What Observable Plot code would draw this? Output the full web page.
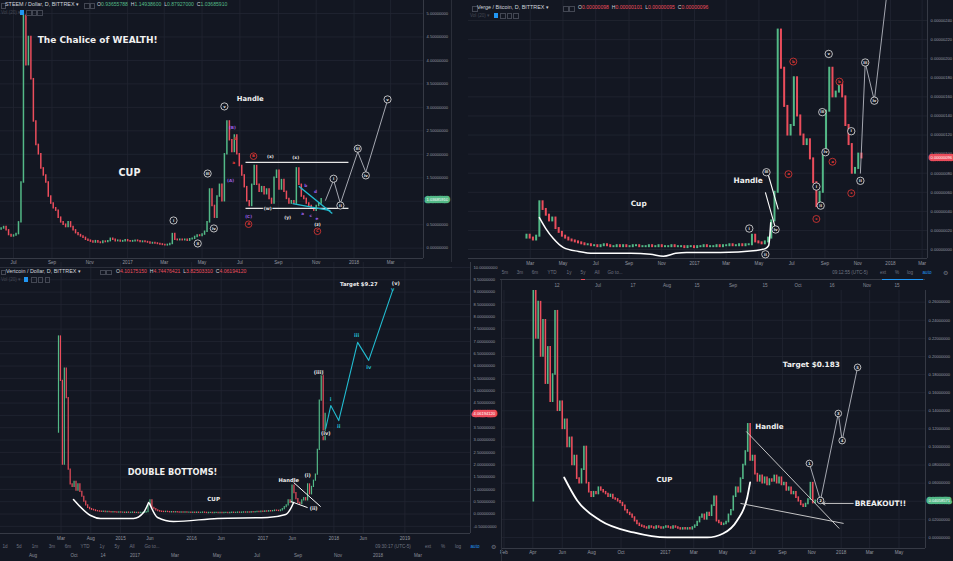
<!DOCTYPE html>
<html>
<head>
<meta charset="utf-8">
<script src="https://cdn.jsdelivr.net/npm/d3@7"></script>
<script src="https://cdn.jsdelivr.net/npm/@observablehq/plot@0.6"></script>
<style>
  html, body { margin: 0; padding: 0; background: #131722; }
  #wrap { position: relative; width: 953px; height: 561px; overflow: hidden; background: #131722; }
  #wrap > svg { position: absolute; }
  .t { position: absolute; white-space: nowrap; font-family: "Liberation Sans", Arial, sans-serif; line-height: 1; transform: translateY(-50%); }
  .hdr { font-size: 5.4px; color: #d1d4dc; }
  .tb { font-size: 4.6px; color: #6f7380; transform: translate(-50%, -50%); }
  .vol { font-size: 4.6px; color: #434753; }
  .g { color: #53b987; } .r { color: #eb4d5c; } .bl { color: #2196f3; }
  .box { position: absolute; width: 3.6px; height: 3.6px; border: 0.6px solid #434753; }
  .bbox { position: absolute; width: 4.4px; height: 4.4px; background: #2196f3; }
  .sep { position: absolute; background: #2a2e39; }
</style>
</head>
<body>
<div id="wrap"></div>
<script>
// ================= DATA =================
// --- STEEM / Dollar (candles every 4 days) ---
const steemStart = "2016-06-11";
const steemStep = 4;
const steemOpen0 = 0.40;
const steemClose = [0.42,0.45,0.38,0.28,0.25,0.27,0.30,0.55,1.40,4.95,
 3.90,4.50,3.60,2.70,2.20,2.00,1.70,1.55,1.40,1.10,
 0.95,0.85,0.80,0.65,0.55,0.50,0.45,0.55,0.45,0.38,
 0.32,0.28,0.25,0.22,0.18,0.16,0.14,0.12,0.15,0.12,
 0.11,0.14,0.13,0.15,0.20,0.18,0.15,0.16,0.14,0.15,
 0.17,0.15,0.14,0.15,0.16,0.15,0.13,0.14,0.13,0.12,
 0.10,0.11,0.10,0.09,0.08,0.07,0.06,0.07,0.09,0.30,
 0.18,0.17,0.18,0.17,0.18,0.16,0.19,0.20,0.24,0.27,
 0.26,0.29,0.35,0.55,1.25,0.90,0.65,1.10,1.35,1.00,
 2.00,2.70,2.30,2.05,2.40,2.00,1.75,1.55,1.30,1.00,
 0.90,1.35,1.75,1.35,1.20,1.30,1.15,1.25,1.05,0.95,
 1.50,1.65,1.25,1.45,1.20,1.05,0.95,1.00,0.95,1.70,
 1.35,1.10,1.05,0.95,0.90,0.85,0.80,0.90,0.95,1.04];
const steemOhlc = ["0.93655788","1.14938600","0.87927000","1.03685910"];
const steemXDomain = ["2016-06-10","2018-04-23"];
const steemYDomain = [-0.22, 5.277];
const steemXTicks = ["2016-07-01","2016-09-01","2016-11-01","2017-01-01","2017-03-01","2017-05-01","2017-07-01","2017-09-01","2017-11-01","2018-01-01","2018-03-01"];
const steemYTicks = [0,0.5,1,1.5,2,2.5,3,3.5,4,4.5,5];
const steemWave = [["2017-11-16",1.02],["2017-11-29",1.45],["2017-12-10",0.95],["2018-01-07",2.05],["2018-01-20",1.62],["2018-02-24",3.15]];
const steemCircles = [["2017-03-16",0.59,"i"],["2017-04-24",0.10,"ii"],["2017-05-10",1.59,"iii"],["2017-05-20",0.42,"iv"],["2017-06-06",3.02,"v"],
 ["2017-11-29",1.48,"i"],["2017-12-10",0.91,"ii"],["2018-01-07",2.12,"iii"],["2018-01-20",1.55,"iv"],["2018-02-24",3.17,"v"]];
const steemRedCircles = [["2017-07-23",1.96,"B"],["2017-07-15",0.51,"A"],["2017-11-03",0.36,"C"]];
const steemWhiteTags = [["2017-08-19",1.96,"(x)"],["2017-09-29",1.93,"(x)"],["2017-08-15",0.85,"(w)"],["2017-09-16",0.65,"(y)"],["2017-11-03",0.51,"(z)"]];
const steemPurpleTags = [["2017-06-19",2.57,"(B)"],["2017-06-16",1.44,"(A)"],["2017-07-15",0.68,"(C)"],["2017-10-15",1.34,"b"],["2017-10-31",1.21,"d"],["2017-10-10",0.74,"a"],["2017-10-23",0.70,"c"],["2017-11-02",0.63,"e"]];
const steemRedTags = [["2017-06-24",2.33,"b"],["2017-06-21",1.82,"a"]];
const steemRange = [["2017-07-10","2017-12-23",1.83],["2017-07-10","2017-12-23",0.85]];
const steemWedge = [[["2017-10-04",1.32],["2017-11-27",0.74]],[["2017-09-24",0.95],["2017-11-24",0.80]]];
const steemNotes = [["2016-08-09",4.43,"The Chalice of WEALTH!"],["2017-06-26",3.19,"Handle"],["2017-01-04",1.61,"CUP"]];

// --- Verge / Bitcoin (satoshi, candles every 6 days) ---
const vergeStart = "2016-02-23";
const vergeStep = 6;
const vergeOpen0 = 12;
const vergeClose = [15,12,10,14,50,42,36,30,33,22,
 18,14,12,10,9,8,7,6,5,5,
 4,4,3,4,5,4,3,3,4,3,
 4,3,3,4,4,3,3,3,4,3,
 3,4,3,3,3,4,3,3,3,2,
 3,3,2,3,3,4,3,3,3,4,
 3,4,4,5,4,4,5,4,5,5,
 15,8,7,6,8,12,30,60,230,190,
 150,120,130,180,140,120,110,115,95,70,
 45,60,100,145,190,160,165,175,160,130,
 110,80,85,100,96];
const vergeOhlc = ["0.00000098","0.00000101","0.00000095","0.00000096"];
const vergeXDomain = ["2015-11-07","2018-03-11"];
const vergeYDomain = [-9.4, 261];
const vergeXTicks = ["2016-03-01","2016-05-01","2016-07-01","2016-09-01","2016-11-01","2017-01-01","2017-03-01","2017-05-01","2017-07-01","2017-09-01","2017-11-01","2018-01-01","2018-03-01"];
const vergeYTicks = [0,20,40,60,80,100,120,140,160,180,200,220,240];
const vergeCup = [["2016-03-18",33.5],["2016-03-30",22],["2016-04-13",11.5],["2016-05-02",2],["2016-05-30",-2],["2016-06-27",-4],["2016-09-04",-4],["2016-10-11",-5],["2016-11-04",-7],["2016-11-27",-4],["2016-12-17",-3],["2017-02-18",-3],["2017-04-26",-1],["2017-05-13",1],["2017-05-19",4],["2017-05-23",28]];
const vergeHandle = [[["2017-05-17",81],["2017-06-06",42]],[["2017-05-13",60],["2017-06-01",22]]];
const vergeWave = [["2017-11-06",80],["2017-11-15",196],["2017-12-02",156],["2018-01-01",300]];
const vergeCircles = [["2017-04-13",22,"i"],["2017-05-13",-5,"ii"],["2017-05-15",81,"iii"],["2017-06-01",21,"iv"],["2017-09-08",205,"v"],
 ["2017-08-16",66,"i"],["2017-08-24",46,"ii"],["2017-08-27",144,"iii"],["2017-09-02",102,"iv"],
 ["2017-10-20",124,"i"],["2017-11-06",72,"ii"],["2017-11-15",196,"iii"],["2017-12-02",156,"iv"]];
const vergeRedCircles = [["2017-06-25",79,"a"],["2017-07-04",197,"b"],["2017-08-16",32,"c"],["2017-09-15",92,"a"],["2017-09-28",176,"b"],["2017-10-20",59,"c"]];
const vergeNotes = [["2017-04-11",72,"Handle"],["2016-09-19",48,"Cup"]];

// --- Vertcoin / Dollar (candles every 10 days) ---
const vtcStart = "2014-02-16";
const vtcStep = 10;
const vtcOpen0 = 3.3;
const vtcClose = [7.2,5.4,2.0,5.9,4.7,1.8,1.2,1.1,1.3,0.95,
 1.2,0.9,0.7,0.5,0.35,0.25,0.2,0.17,0.15,0.12,
 0.11,0.10,0.09,0.10,0.08,0.09,0.08,0.07,0.08,0.07,
 0.06,0.07,0.06,0.06,0.05,0.06,0.05,0.05,0.06,0.05,
 0.05,0.04,0.05,0.05,0.06,0.08,0.35,0.55,0.25,0.20,
 0.15,0.12,
 0.10,0.09,0.08,0.09,0.08,0.07,0.08,0.07,0.08,0.07,
 0.06,0.07,0.06,0.07,0.06,0.06,0.05,0.06,0.05,0.06,
 0.05,0.05,0.06,0.05,0.04,0.05,0.05,0.04,0.05,0.05,
 0.04,0.05,0.04,0.05,0.05,0.04,0.05,0.06,0.05,0.05,
 0.06,0.05,0.06,0.07,0.06,0.07,0.06,0.08,0.07,0.08,
 0.09,0.08,0.10,0.09,0.11,0.10,0.12,0.11,0.12,0.14,
 0.13,0.12,
 0.15,0.20,0.28,0.35,0.55,0.45,1.15,0.85,0.60,0.45,
 0.40,0.55,0.65,0.55,1.20,0.80,1.10,1.35,1.60,2.60,
 4.60,5.80,3.00,4.06];
const vtcOhlc = ["4.10175150","4.74476421","3.82503310","4.06194120"];
const vtcXDomain = ["2013-04-24","2019-12-04"];
const vtcYDomain = [-0.79, 10.2];
const vtcXTicks = ["2014-03-01","2014-08-01","2015-01-01","2015-06-01","2016-01-01","2016-06-01","2017-01-01","2017-06-01","2018-01-01","2018-06-01","2019-01-01"];
const vtcYTicks = [-0.5,0,0.5,1,1.5,2,2.5,3,3.5,4,4.5,5,5.5,6,6.5,7,7.5,8,8.5,9,9.5,10];
const vtcCup1 = [["2014-05-04",0.59],["2014-07-31",-0.06],["2014-09-20",-0.18],["2015-03-09",-0.18],["2015-04-29",0.06],["2015-05-25",0.47]];
const vtcCup2 = [["2015-05-30",0.43],["2015-07-10",-0.14],["2015-09-30",-0.30],["2016-05-14",-0.18],["2017-01-26",-0.14],["2017-04-28",-0.02],["2017-05-24",0.22],["2017-06-08",0.47]];
const vtcHandle = [[["2017-06-08",1.28],["2017-10-25",0.30]],[["2017-05-24",0.51],["2017-08-19",0.26]]];
const vtcWave = [["2017-11-20",3.47],["2017-12-16",4.40],["2018-01-26",3.79],["2018-05-03",6.96],["2018-06-29",6.23],["2018-10-30",9.07]];
const vtcWaveTags = [["2017-12-16",4.66,"i"],["2018-01-26",3.56,"ii"],["2018-04-28",7.26,"iii"],["2018-06-29",5.96,"iv"],["2018-10-30",9.12,"v"]];
const vtcWhiteTags = [["2017-10-15",5.74,"(iii)"],["2017-11-20",3.27,"(iv)"],["2017-08-19",1.56,"(i)"],["2017-09-19",0.22,"(ii)"],["2018-11-15",9.35,"(v)"]];
const vtcNotes = [["2015-09-25",1.68,"DOUBLE BOTTOMS!"],["2016-04-23",0.59,"CUP"],["2017-05-14",1.36,"Handle"],["2018-05-09",9.31,"Target $9.27"]];

// --- Coin / Dollar, bottom right (candles every 5 days) ---
const coinStart = "2016-04-02";
const coinStep = 5;
const coinOpen0 = 0.04;
const coinClose = [0.30,0.22,0.26,0.20,0.24,0.17,0.21,0.15,0.18,0.25,
 0.14,0.15,0.12,0.13,0.10,0.11,0.08,0.09,0.065,0.060,
 0.075,0.10,0.06,0.050,0.045,0.050,0.048,0.055,0.052,0.050,
 0.048,0.045,0.047,0.043,0.042,0.040,0.038,0.035,0.030,0.027,
 0.025,0.022,0.018,0.015,0.013,0.012,0.011,0.010,0.012,0.011,
 0.010,0.012,0.011,0.010,0.011,0.012,0.011,0.010,0.012,0.011,
 0.010,0.009,0.010,0.009,0.010,0.009,0.011,0.013,0.017,0.022,
 0.025,0.020,0.027,0.024,0.035,0.045,0.018,0.016,0.014,0.015,
 0.017,0.025,0.030,0.045,0.055,0.050,0.065,0.080,0.095,0.125,
 0.085,0.090,0.070,0.062,0.068,0.060,0.066,0.058,0.064,0.062,
 0.068,0.060,0.066,0.058,0.060,0.052,0.055,0.048,0.050,0.044,
 0.040,0.036,0.034,0.037,0.042,0.060,0.038,0.0406];
const coinLast = "0.04058571";
const coinXDomain = ["2016-01-29","2018-06-25"];
const coinYDomain = [-0.0122, 0.2729];
const coinXTicks = ["2016-02-01","2016-04-01","2016-06-01","2016-08-01","2016-10-01","2017-01-01","2017-03-01","2017-05-01","2017-07-01","2017-09-01","2017-11-01","2018-01-01","2018-03-01","2018-05-01"];
const coinYTicks = [0,0.02,0.04,0.06,0.08,0.10,0.12,0.14,0.16,0.18,0.20,0.22,0.24,0.26];
const coinCup = [["2016-06-05",0.0663],["2016-07-02",0.0409],["2016-08-19",0.0188],["2016-10-27",0.0055],["2017-01-05",0],["2017-03-29",0],["2017-05-01",0.0044],["2017-05-30",0.0188],["2017-06-20",0.0442],["2017-06-26",0.0608]];
const coinHandle = [[["2017-06-18",0.1171],["2017-12-28",0.0099]],[["2017-06-06",0.0376],["2018-01-06",0.0155]]];
const coinWave = [["2017-10-27",0.0818],["2017-11-19",0.0409],["2017-12-26",0.137],["2018-01-03",0.107],["2018-02-04",0.188]];
const coinCircles = [["2017-10-27",0.0818,"1"],["2017-11-19",0.0409,"2"],["2017-12-26",0.137,"3"],["2018-01-03",0.107,"4"],["2018-02-04",0.188,"5"]];
const coinArrow = [[["2018-01-26",0.0376],["2017-11-23",0.0376]]];
const coinNotes = [["2017-10-31",0.191,"Target $0.183"],["2017-08-05",0.1227,"Handle"],["2016-12-30",0.064,"CUP"],["2018-01-29",0.0376,"BREAKOUT!!"]];

// --- UI chrome text ---
const toolbarLeft = ["5m","3m","6m","YTD","1y","5y","All","Go to..."];
const toolbarRightTop = ["09:12:55 (UTC-5)","ext","%","log","auto"];
const toolbarLeftB = ["1d","5d","1m","3m","6m","YTD","1y","5y","All","Go to..."];
const toolbarRightB = ["09:30:17 (UTC-5)","ext","%","log","auto"];
const stripTopLabels = ["12","Jul","17","Aug","15","Sep","15","Oct","16","Nov","15"];
const stripBottomLabels = ["Aug","Oct","14","2017","Mar","May","Jul","Sep","Nov","2018","Mar"];

// ================= RENDER =================
const wrap = document.getElementById("wrap");
const UP = "#53b987", DOWN = "#eb4d5c", BG = "#131722", GRID = "#222632", EDGE = "#363a45", AX = "#9598a1";
const WAVE = "#c9ccd4", CYAN = "#22bcd0", PURPLE = "#9a5ee6", RED = "#e53935", WHITE = "#f0f0f0";
const FONT = "'DejaVu Sans', Verdana, sans-serif";
const parse = s => new Date(s + "T00:00:00Z");
const monthFmt = d3.utcFormat("%b");
const tickFmt = d => d.getUTCMonth() === 0 ? String(d.getUTCFullYear()) : monthFmt(d);

function candles(start, step, open0, closes) {
  const t0 = parse(start);
  return closes.map((c, i) => ({date: d3.utcDay.offset(t0, i * step), open: i ? closes[i - 1] : open0, close: c}));
}
function circled(list, color, r, fs) {
  return [
    Plot.dot(list, {x: d => parse(d[0]), y: d => d[1], r, stroke: color, strokeWidth: 0.8, fill: BG}),
    Plot.text(list, {x: d => parse(d[0]), y: d => d[1], text: d => d[2], fill: color, fontSize: fs, fontWeight: "bold", fontFamily: FONT})
  ];
}
function tags(list, color, fs, extra = {}) {
  return Plot.text(list, {x: d => parse(d[0]), y: d => d[1], text: d => d[2], fill: color, fontSize: fs, fontWeight: "bold", fontFamily: FONT, ...extra});
}
function note(list, i, fs, anchor = "middle") {
  return Plot.text([list[i]], {x: d => parse(d[0]), y: d => d[1], text: d => d[2], fill: WHITE, fontSize: fs, fontWeight: "bold", fontFamily: FONT, textAnchor: anchor});
}
function path(points, stroke, strokeWidth, extra = {}) {
  return Plot.line(points, {x: d => parse(d[0]), y: d => d[1], stroke, strokeWidth, ...extra});
}
function segs(pairs, stroke, strokeWidth) {
  return Plot.link(pairs, {x1: p => parse(p[0][0]), y1: p => p[0][1], x2: p => parse(p[1][0]), y2: p => p[1][1], stroke, strokeWidth});
}

function panel(o) {
  const data = candles(o.start, o.step, o.open0, o.closes);
  const last = data[data.length - 1];
  const xT = o.xTicks.map(parse);
  const xD = o.xDomain.map(parse);
  const svg = Plot.plot({
    width: o.width, height: o.height,
    marginLeft: o.mL, marginRight: o.mR, marginTop: 0, marginBottom: o.mB,
    style: {background: "transparent", fontFamily: "'Liberation Sans', Arial, sans-serif"},
    x: {type: "utc", domain: xD, axis: null},
    y: {type: "linear", domain: o.yDomain, axis: null},
    marks: [
      Plot.ruleX(xT, {x: d => d, stroke: GRID, strokeWidth: 0.8}),
      Plot.ruleY(o.yTicks, {y: d => d, stroke: GRID, strokeWidth: 0.8}),
      Plot.ruleX([xD[1]], {x: d => d, stroke: EDGE, strokeWidth: 1}),
      Plot.ruleY([o.yDomain[0]], {y: d => d, stroke: EDGE, strokeWidth: 1}),
      Plot.text(xT, {x: d => d, frameAnchor: "bottom", dy: o.xDy, text: tickFmt, fill: AX, fontSize: 4.6}),
      Plot.text(o.yTicks, {y: d => d, frameAnchor: "right", dx: 3, textAnchor: "start", text: o.yFmt, fill: AX, fontSize: 4.1}),
      Plot.ruleX(data.filter(d => d.close >= d.open), {x: "date", y1: "open", y2: "close", stroke: UP, strokeWidth: o.candleW, strokeLinecap: "square", clip: true}),
      Plot.ruleX(data.filter(d => d.close < d.open), {x: "date", y1: "open", y2: "close", stroke: DOWN, strokeWidth: o.candleW, strokeLinecap: "square", clip: true}),
      ...o.marks,
      Plot.text([last], {y: "close", frameAnchor: "right", dx: 3, textAnchor: "start", text: () => o.lastText, fill: o.priceColor, stroke: o.priceColor, strokeWidth: 4.5, strokeLinejoin: "round", fontSize: 4.1}),
      Plot.text([last], {y: "close", frameAnchor: "right", dx: 3, textAnchor: "start", text: () => o.lastText, fill: "#ffffff", fontSize: 4.1})
    ]
  });
  svg.style.left = o.left + "px";
  svg.style.top = o.top + "px";
  wrap.appendChild(svg);
}

// Panel A: STEEM
panel({
  left: 0, top: 0, width: 460, height: 270, mL: 0, mR: 37, mB: 12, xDy: 5,
  start: steemStart, step: steemStep, open0: steemOpen0, closes: steemClose, candleW: 1.5,
  xDomain: steemXDomain, yDomain: steemYDomain, xTicks: steemXTicks, yTicks: steemYTicks,
  yFmt: d => d.toFixed(8), lastText: steemOhlc[3], priceColor: UP,
  marks: [
    segs(steemRange.map(r => [[r[0], r[2]], [r[1], r[2]]]), "#e6e6e6", 1.3),
    segs(steemWedge, CYAN, 1.4),
    path(steemWave, WAVE, 0.8),
    ...circled(steemCircles, "#e6e6e6", 3.6, 3.8),
    ...circled(steemRedCircles, RED, 3.3, 3.8),
    tags(steemWhiteTags, "#e6e6e6", 4.4, {stroke: BG, strokeWidth: 2}),
    tags(steemPurpleTags, PURPLE, 4.2),
    tags(steemRedTags, RED, 4.2),
    note(steemNotes, 0, 9, "start"),
    note(steemNotes, 1, 6.8, "start"),
    note(steemNotes, 2, 9.6, "middle")
  ]
});

// Panel C: Verge
panel({
  left: 463, top: 0, width: 490, height: 270, mL: 5, mR: 26, mB: 12, xDy: 6,
  start: vergeStart, step: vergeStep, open0: vergeOpen0, closes: vergeClose, candleW: 2.0,
  xDomain: vergeXDomain, yDomain: vergeYDomain, xTicks: vergeXTicks, yTicks: vergeYTicks,
  yFmt: d => (d / 1e8).toFixed(8), lastText: vergeOhlc[3], priceColor: DOWN,
  marks: [
    path(vergeCup, "#ffffff", 1.5, {curve: "monotone-x"}),
    segs(vergeHandle, "#ffffff", 1.1),
    path(vergeWave, WAVE, 0.8, {clip: true}),
    ...circled(vergeCircles, "#e6e6e6", 3.7, 3.8),
    ...circled(vergeRedCircles, RED, 3.5, 3.8),
    note(vergeNotes, 0, 7.4, "middle"),
    note(vergeNotes, 1, 7.4, "middle")
  ]
});

// Panel B: Vertcoin
panel({
  left: 0, top: 262, width: 502, height: 283, mL: 0, mR: 32, mB: 12, xDy: 6,
  start: vtcStart, step: vtcStep, open0: vtcOpen0, closes: vtcClose, candleW: 1.2,
  xDomain: vtcXDomain, yDomain: vtcYDomain, xTicks: vtcXTicks, yTicks: vtcYTicks,
  yFmt: d => d.toFixed(8), lastText: vtcOhlc[3], priceColor: DOWN,
  marks: [
    path(vtcCup1, "#ffffff", 1.5, {curve: "monotone-x"}),
    path(vtcCup2, "#ffffff", 1.5, {curve: "monotone-x"}),
    segs(vtcHandle, "#ffffff", 1),
    path(vtcWave, CYAN, 1.1),
    tags(vtcWaveTags, CYAN, 5.2),
    tags(vtcWhiteTags, "#e6e6e6", 5, {stroke: BG, strokeWidth: 1.5}),
    note(vtcNotes, 0, 8.2),
    note(vtcNotes, 1, 5.6),
    note(vtcNotes, 2, 5.2),
    note(vtcNotes, 3, 5.3)
  ]
});

// Panel D: bottom right coin
panel({
  left: 495, top: 290, width: 458, height: 270, mL: 7, mR: 28, mB: 12, xDy: 5,
  start: coinStart, step: coinStep, open0: coinOpen0, closes: coinClose, candleW: 1.6,
  xDomain: coinXDomain, yDomain: coinYDomain, xTicks: coinXTicks, yTicks: coinYTicks,
  yFmt: d => d.toFixed(8), lastText: coinLast, priceColor: UP,
  marks: [
    path(coinCup, "#ffffff", 1.8, {curve: "monotone-x"}),
    segs(coinHandle, "#d8d8d8", 0.9),
    path(coinWave, WAVE, 0.8),
    Plot.arrow(coinArrow, {x1: p => parse(p[0][0]), y1: p => p[0][1], x2: p => parse(p[1][0]), y2: p => p[1][1], stroke: "#d8d8d8", strokeWidth: 0.9, headLength: 5}),
    ...circled(coinCircles, "#e6e6e6", 3.3, 3.8),
    note(coinNotes, 0, 7.3),
    note(coinNotes, 1, 7.1),
    note(coinNotes, 2, 7),
    note(coinNotes, 3, 7.4, "start")
  ]
});

// ================= CHROME (headers, toolbars) =================
function el(cls, x, y, html, css = "") {
  const e = document.createElement("div");
  e.className = cls;
  e.style.left = x + "px";
  e.style.top = y + "px";
  if (css) e.style.cssText += css;
  e.innerHTML = html;
  wrap.appendChild(e);
  return e;
}
function ohlc(vals, cls) {
  return `O<span class="${cls}">${vals[0]}</span>&nbsp; H<span class="${cls}">${vals[1]}</span>&nbsp; L<span class="${cls}">${vals[2]}</span>&nbsp; C<span class="${cls}">${vals[3]}</span>`;
}
// separators
el("sep", 451, 0, "", "width:1px;height:262px;");
el("sep", 0, 267, "", "width:452px;height:1px;");
el("sep", 501, 280, "", "width:1px;height:281px;");
el("sep", 500, 279, "", "width:425px;height:1px;background:#363a45;");
el("sep", 882, 278.5, "", "width:41px;height:1px;background:#2196f3;");
el("sep", 581, 278.5, "", "width:4px;height:1.2px;background:#eb4d5c;");

// header A
el("box", 0.5, 3, "");
el("t hdr", 5, 5, "STEEM / Dollar, D, BITTREX ▾");
el("box", 84, 3, ""); el("box", 89.5, 3, "");
el("t hdr", 97, 5, ohlc(steemOhlc, "g"), "font-size:5.1px;");
el("t vol", 1, 12.5, "Vol (20) ▾");
el("bbox", 20, 10.3, ""); el("box", 26, 10.3, ""); el("box", 31.5, 10.3, ""); el("box", 37, 10.3, "");

// header C
el("box", 472, 6, "");
el("t hdr", 477, 8, "Verge / Bitcoin, D, BITTREX ▾");
el("box", 563, 6, ""); el("box", 569, 6, "");
el("t hdr", 578, 8, ohlc(vergeOhlc, "r"), "font-size:5.1px;");
el("t vol", 470, 15.5, "Vol (20) ▾");
el("bbox", 494, 13.3, ""); el("box", 500, 13.3, ""); el("box", 506.5, 13.3, ""); el("box", 513, 13.3, "");

// header B
el("box", 0.5, 269.5, "");
el("t hdr", 6, 271.5, "Vertcoin / Dollar, D, BITTREX ▾");
el("box", 100, 269.5, ""); el("box", 106, 269.5, "");
el("t hdr", 116, 271.5, ohlc(vtcOhlc, "r"), "font-size:5.1px;");
el("t vol", 1, 279.5, "Vol (20) ▾");
el("bbox", 24, 277.3, ""); el("box", 31, 277.3, ""); el("box", 37.5, 277.3, ""); el("box", 44.5, 277.3, "");

// toolbar under Verge
const tbTopX = [505, 520, 535, 552, 569, 583, 597, 615];
toolbarLeft.forEach((s, i) => el("t tb", tbTopX[i], 273, s));
const tbTopRX = [850, 883, 897, 910, 927];
toolbarRightTop.forEach((s, i) => el("t tb" + (s === "auto" ? " bl" : ""), tbTopRX[i], 273, s));
el("t tb", 945, 273, "⚙", "font-size:6px;");

// strip axis above bottom-right chart
const stripTopX = [557, 598, 633, 667, 697, 733, 765, 798, 832, 867, 897];
stripTopLabels.forEach((s, i) => el("t tb", stripTopX[i], 286, s, "color:#8a8e99;"));

// toolbar under Vertcoin
const tbBX = [5, 19, 35, 52, 68, 85, 102, 117, 132, 152];
toolbarLeftB.forEach((s, i) => el("t tb", tbBX[i], 547, s));
const tbBRX = [393, 428, 443, 458, 475];
toolbarRightB.forEach((s, i) => el("t tb" + (s === "auto" ? " bl" : ""), tbBRX[i], 547, s));
el("t tb", 493, 547, "⚙", "font-size:6px;");

// bottom strip axis
const stripBotX = [33, 74, 103, 135, 175, 217, 257, 298, 338, 378, 418];
stripBottomLabels.forEach((s, i) => el("t tb", stripBotX[i], 556, s, "color:#8a8e99;"));
</script>
</body>
</html>
